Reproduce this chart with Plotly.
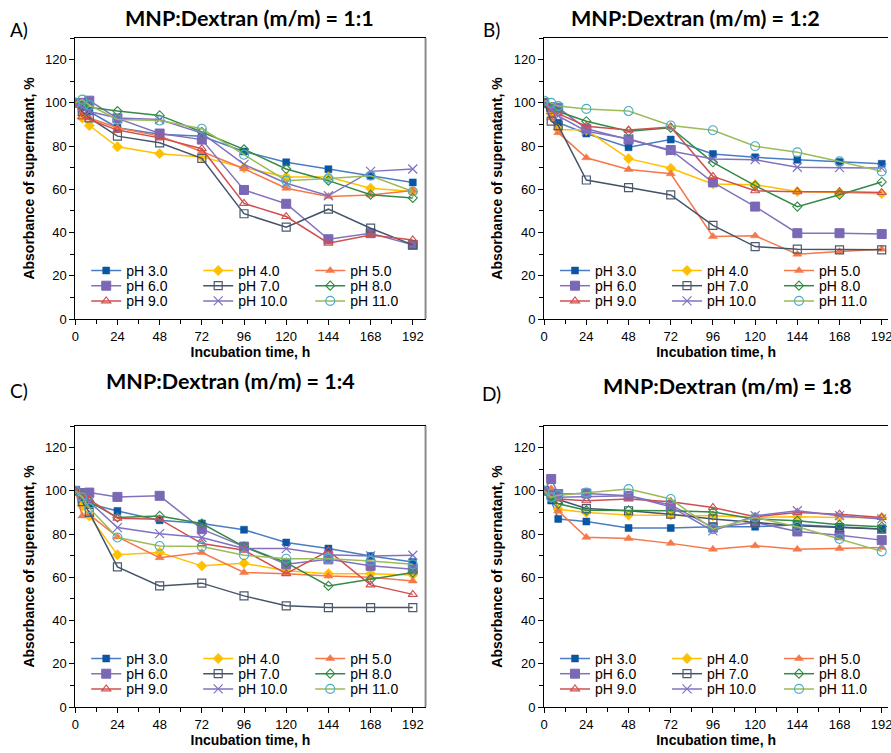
import plotly.graph_objects as go

W, H = 891, 753

time_h = [0, 4, 8, 24, 48, 72, 96, 120, 144, 168, 192]
ph_labels = ["pH 3.0", "pH 4.0", "pH 5.0", "pH 6.0", "pH 7.0", "pH 8.0", "pH 9.0", "pH 10.0", "pH 11.0"]
panel_titles = ["MNP:Dextran (m/m) = 1:1", "MNP:Dextran (m/m) = 1:2",
                "MNP:Dextran (m/m) = 1:4", "MNP:Dextran (m/m) = 1:8"]
panel_letters = ["A)", "B)", "C)", "D)"]
x_ticks = [0, 24, 48, 72, 96, 120, 144, 168, 192]
y_ticks = [0, 20, 40, 60, 80, 100, 120]

# Panel A: 1:1
a_ph3 = [100, 98, 96, 88.5, 85.5, 84.5, 77.5, 72.5, 69.3, 66.2, 63.2]
a_ph4 = [100, 93, 89.5, 79.7, 76.5, 75, 70, 65.7, 65.7, 60.5, 59]
a_ph5 = [100, 95, 93, 88.5, 84.6, 77.5, 69.5, 60.5, 56.7, 57.4, 59.5]
a_ph6 = [100, 100, 101, 92.8, 85.8, 83, 59.7, 53.3, 36.9, 39.7, 34.3]
a_ph7 = [100, 96, 93, 84.6, 81.5, 74.3, 48.7, 42.5, 50.8, 42, 34.3]
a_ph8 = [100, 99, 98, 96.2, 94.2, 86.5, 78.5, 69.4, 64, 57.5, 56]
a_ph9 = [100, 93.5, 92.3, 87.4, 83.8, 78.8, 53.5, 47.4, 35.1, 38.9, 36.6]
a_ph10 = [100, 98, 96, 93, 92.3, 86, 71.5, 62.8, 57, 68.3, 69.4]
a_ph11 = [100, 101.5, 99, 92.3, 91.8, 88, 76, 64, 65, 66.3, 59]

# Panel B: 1:2
b_ph3 = [100, 97, 90.8, 85.8, 79.5, 83, 76.3, 74.8, 73.7, 72.6, 71.8]
b_ph4 = [100, 95, 87.7, 87.4, 74.2, 69.7, 62.5, 62.1, 59, 58.5, 58]
b_ph5 = [100, 93, 86.2, 74.6, 69.2, 67.2, 38.2, 38.5, 30, 31.2, 32.3]
b_ph6 = [100, 98, 97.7, 88, 83, 78.2, 63.2, 52, 39.7, 39.7, 39.3]
b_ph7 = [100, 91.5, 89.5, 64.3, 60.8, 57.4, 43.3, 33.5, 32.3, 32, 32]
b_ph8 = [100, 98, 96, 91.5, 86.9, 88.5, 72.5, 61.7, 52, 57.5, 63.4]
b_ph9 = [100, 96, 95, 89.2, 87.4, 88.8, 66, 59.3, 58.9, 58.9, 58.5]
b_ph10 = [100, 97, 94, 86.9, 83.4, 77.7, 74, 73.7, 70.2, 70, 69.8]
b_ph11 = [101, 100, 98.5, 97.2, 96.2, 89.5, 87.3, 79.9, 77.1, 72.9, 68.3]

# Panel C: 1:4
c_ph3 = [100, 96, 94, 90.7, 86.4, 84.9, 82, 76.1, 73.3, 69.9, 67.1]
c_ph4 = [100, 93, 88.4, 70.4, 71.5, 65.3, 66.5, 63, 61.7, 61.7, 61.1]
c_ph5 = [100, 88.4, 89, 78.7, 69.1, 71.5, 62.2, 61.7, 60.6, 60, 58.3]
c_ph6 = [100, 99, 99.2, 97.2, 97.7, 82.3, 74.2, 66, 68.3, 65.3, 63.7]
c_ph7 = [100, 95, 90, 64.8, 56, 57.3, 51.4, 46.8, 46, 46, 46]
c_ph8 = [100, 98, 95, 87.7, 88.4, 84.9, 74.2, 66.8, 56, 59.1, 62.2]
c_ph9 = [100, 98, 96, 87.3, 86.9, 75.6, 72.5, 61.7, 72.2, 56.5, 52.1]
c_ph10 = [100, 97, 95, 83, 80.2, 78.4, 73.3, 73.3, 70.4, 69.9, 70.2]
c_ph11 = [100, 97, 92, 78.4, 74.5, 74.2, 70.2, 68.6, 68.6, 67.6, 66]

# Panel D: 1:8
d_ph3 = [100, 95.5, 87, 85.8, 82.8, 82.8, 83.4, 83.4, 84.3, 83.4, 82.3]
d_ph4 = [100, 98, 91.5, 90, 88.8, 88.8, 88.5, 87.7, 88, 87.7, 87.7]
d_ph5 = [100, 101, 90.8, 78.5, 78, 75.7, 73, 74.6, 73, 73.3, 73.8]
d_ph6 = [100, 105.5, 98.5, 98.8, 97.7, 93.5, 83, 85.4, 81.2, 79.5, 77.2]
d_ph7 = [100, 98, 96, 91.8, 90.8, 89.2, 87, 85.4, 83.8, 83, 82.3]
d_ph8 = [100, 97, 94, 91, 91, 90.8, 90.2, 87, 86.2, 84.3, 83.4]
d_ph9 = [100, 98, 96.2, 95.4, 96.2, 95, 92.3, 88, 90, 89.2, 87.7]
d_ph10 = [100, 99, 97, 97.2, 97.7, 92.6, 81.5, 88.5, 90.8, 88.5, 87]
d_ph11 = [100, 97, 98, 99.2, 100.8, 96.2, 82.3, 87.7, 83.4, 77.7, 72]

panels = [
    [a_ph3, a_ph4, a_ph5, a_ph6, a_ph7, a_ph8, a_ph9, a_ph10, a_ph11],
    [b_ph3, b_ph4, b_ph5, b_ph6, b_ph7, b_ph8, b_ph9, b_ph10, b_ph11],
    [c_ph3, c_ph4, c_ph5, c_ph6, c_ph7, c_ph8, c_ph9, c_ph10, c_ph11],
    [d_ph3, d_ph4, d_ph5, d_ph6, d_ph7, d_ph8, d_ph9, d_ph10, d_ph11],
]

# styles: (line color, marker color, symbol, size, marker line width)
styles = [
    ("#4A7DC4", "#0B56A3", "square", 7, 0.5),
    ("#FFC000", "#FFC000", "diamond", 8, 0.5),
    ("#F4784A", "#F4784A", "triangle-up", 8, 0.5),
    ("#8272BC", "#7B68B5", "square", 9, 1.0),
    ("#44546A", "#4D5A6E", "square-open", 8, 1.2),
    ("#338A47", "#338A47", "diamond-open", 7, 1.1),
    ("#CF4F4F", "#CF4F4F", "triangle-up-open", 8, 1.1),
    ("#7F72C0", "#7F72C0", "x-thin-open", 9, 1.2),
    ("#9BBB59", "#4BACC6", "circle-open", 9, 1.1),
]

def px_x(p):
    return p / W

def px_y(p):
    return 1 - p / H

# plot area pixel geometry: (left, right, top, bottom)
geo = [
    (75.5, 427, 38, 319),
    (546, 891, 38, 319),
    (75.5, 427, 426, 707),
    (546, 891, 426, 707),
]
px_per_h = 1.764

fig = go.Figure()
tick_font = dict(family="Liberation Sans, Arial", size=13, color="black")
title_font = dict(family="Liberation Sans, Arial", size=14, color="black", weight=700)

for p in range(4):
    l, r, t, b = geo[p]
    sfx = "" if p == 0 else str(p + 1)
    for i in range(9):
        lc, mc, sym, sz, mlw = styles[i]
        leg_idx = p * 3 + i // 3 + 1
        fig.add_trace(go.Scatter(
            x=time_h, y=panels[p][i], name=ph_labels[i], mode="lines+markers",
            xaxis="x" + sfx, yaxis="y" + sfx,
            line=dict(color=lc, width=1.5),
            marker=dict(symbol=sym, size=sz, color=mc,
                        line=dict(color=mc, width=mlw)),
            legend="legend" if leg_idx == 1 else "legend%d" % leg_idx,
        ))
    xr = (r - l) / px_per_h
    fig.update_layout(**{
        "xaxis" + sfx: dict(
            domain=[px_x(l), px_x(r)], range=[0, xr], anchor="y" + sfx,
            tickmode="array", tickvals=x_ticks, ticks="outside", ticklen=5,
            tickcolor="black", showline=True, linecolor="black", linewidth=1,
            mirror=True, showgrid=False, zeroline=False, tickfont=tick_font,
            ticklabeloverflow="allow",
            minor=dict(tickmode="array", tickvals=[12 + 24 * k for k in range(8)],
                       ticks="outside", ticklen=4, tickcolor="black", showgrid=False),
            title=dict(text="Incubation time, h", font=title_font, standoff=4),
            automargin=False,
        ),
        "yaxis" + sfx: dict(
            domain=[px_y(b), px_y(t)], range=[0, 130], anchor="x" + sfx,
            tickmode="array", tickvals=y_ticks, ticks="outside", ticklen=5,
            tickcolor="black", showline=True, linecolor="black", linewidth=1,
            showgrid=False, zeroline=False, tickfont=tick_font,
            minor=dict(tickmode="array", tickvals=[10 + 20 * k for k in range(7)],
                       ticks="outside", ticklen=4, tickcolor="black", showgrid=False),
            title=dict(text="Absorbance of supernatant, %", font=title_font, standoff=7),
            automargin=False,
        ),
    })
    # legends (one per row, three entries each)
    for row in range(3):
        leg_idx = p * 3 + row + 1
        name = "legend" if leg_idx == 1 else "legend%d" % leg_idx
        cy = b - 48.5 + 15.2 * row
        fig.update_layout(**{name: dict(
            orientation="h", x=px_x(l + 11), xanchor="left",
            y=px_y(cy - 15.6), yanchor="top",
            entrywidth=67, entrywidthmode="pixels",
            bgcolor="rgba(0,0,0,0)", borderwidth=0, itemwidth=30,
            font=dict(family="Liberation Sans, Arial", size=14, color="black"),
            traceorder="normal", tracegroupgap=0,
        )})

# right gray borders of the plot areas that are fully visible
for sfx in ["", "3"]:
    fig.add_shape(type="line", xref="x%s domain" % sfx, yref="y%s domain" % sfx,
                  x0=1, x1=1, y0=0, y1=1, line=dict(color="#8C8C8C", width=2))

title_pos = [(250, 18), (698, 18), (231, 381), (730, 386)]
letter_pos = [(19, 30), (493, 30), (19, 390), (493, 393)]
for p in range(4):
    fig.add_annotation(x=px_x(title_pos[p][0]), y=px_y(title_pos[p][1]), xref="paper", yref="paper",
                       text=panel_titles[p], showarrow=False, xanchor="center", yanchor="middle",
                       font=dict(family="Lato", size=21.5, color="black", weight=700))
    fig.add_annotation(x=px_x(letter_pos[p][0]), y=px_y(letter_pos[p][1]), xref="paper", yref="paper",
                       text=panel_letters[p], showarrow=False, xanchor="center", yanchor="middle",
                       font=dict(family="Lato", size=19, color="black"))

fig.update_layout(width=W, height=H, margin=dict(l=0, r=0, t=0, b=0),
                  paper_bgcolor="white", plot_bgcolor="white")

fig.write_html("out.html")
